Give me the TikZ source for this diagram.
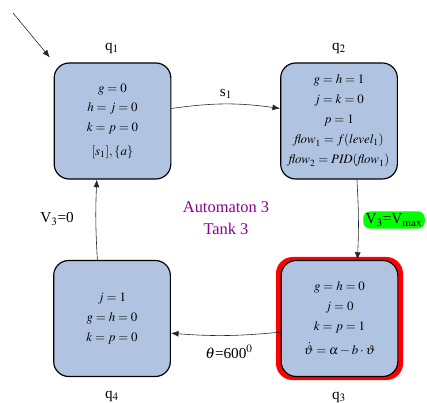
\documentclass[tikz,border=0pt]{standalone}
\usepackage{amsmath}
\usepackage{mathptmx}
\usepackage{fontspec}
\setmainfont{Liberation Serif}
\usetikzlibrary{arrows.meta}
\definecolor{stateblue}{RGB}{176,196,226}
\definecolor{autpurple}{RGB}{140,0,140}

\begin{document}
\begin{tikzpicture}[x=0.03cm,y=-0.03cm,
  state/.style={draw,line width=1pt,rounded corners=0.45cm,fill=stateblue,
    minimum width=3.5cm,minimum height=3.48cm,align=center,
    font=\fontsize{11}{17}\selectfont},
  link/.style={-{Latex[length=6.5pt,width=5pt]},black!85,line width=0.5pt},
  lab/.style={font=\fontsize{13}{15}\selectfont}]
\useasboundingbox (0,0) rectangle (427,403);

% states
\node[state] (q1) at (112.5,121) {$g=0$\\ $h=j=0$\\ $k=p=0$\\[3pt] $[s_1],\{a\}$};
\node[state] (q2) at (339,121) {$g=h=1$\\ $j=k=0$\\ $p=1$\\
  $\mathit{flow}_1=f(\mathit{level}_1)$\\ $\mathit{flow}_2=\mathit{PID}(\mathit{flow}_1)$};
\node[fill=red,rounded corners=0.5cm,minimum width=3.81cm,minimum height=3.69cm] (q3glow) at (339.5,318.5) {};
\node[state] (q3) at (339.5,318.5) {$g=h=0$\\ $j=0$\\ $k=p=1$\\[3pt] $\dot{\vartheta}=\alpha-b\cdot\vartheta$};
\node[state] (q4) at (112,318.5) {$j=1$\\ $g=h=0$\\ $k=p=0$};

% state names
\node[lab] (n1) at (112,48) {q$_1$};
\node[lab] (n2) at (339,48) {q$_2$};
\node[lab] (n3) at (339,397) {q$_3$};
\node[lab] (n4) at (112,396) {q$_4$};

% transitions
\coordinate (init) at (13,13);
\draw[link,shorten >=1.9mm] (init) -- (q1.135);
\draw[link] (q1.12) to[bend left=8] (q2.168);
\draw[link] (q2.-73) to[bend left=3] (q3.73);
\draw[link] (q3.193) to[bend left=5] (q4.-14);
\draw[link] (q4.104) to[bend left=3] (q1.-105);

% labels
\node[lab] (s1) at (226,94) {s$_1$};
\node[lab,fill=green,rounded corners=0.2cm,inner sep=2pt] (vmax) at (394,220) {V$_3$=V$_{\mathrm{max}}$};
\node[lab] (theta) at (229,352) {$\theta$=600$^0$};
\node[lab] (v0) at (57,219) {V$_3$=0};
\node[font=\fontsize{14}{19}\selectfont,text=autpurple,align=center] (aut) at (226,218) {Automaton 3\\ Tank 3};
\end{tikzpicture}
\end{document}
